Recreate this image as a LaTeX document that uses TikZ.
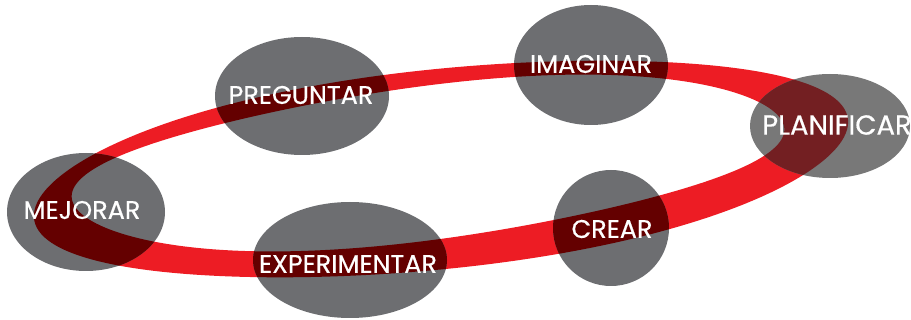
\documentclass[tikz,border=0pt]{standalone}
\usepackage{fontspec}
\setmainfont{Poppins}[FakeBold=0.5]
\newfontfamily\lblfont{Poppins}[FakeBold=0.5]
\usetikzlibrary{shapes.geometric}
\definecolor{ringred}{HTML}{ED1C24}
\definecolor{blobgray}{HTML}{6D6E71}
\definecolor{blobdark}{HTML}{640000}
\definecolor{plangray}{HTML}{787878}
\definecolor{plandark}{HTML}{731F22}
% ring = outer rotated (slightly sheared) ellipse minus inner one
\newcommand\ringpath{plot[domain=0:360, samples=180, smooth cycle, variable=\t]
    ({441 + 410*cos(\t)*cos(7) - (100-4*sin(2*\t))*sin(\t)*sin(7)}, {169 - (410*cos(\t)*sin(7) + (100-4*sin(2*\t))*sin(\t)*cos(7))})
  plot[domain=0:360, samples=180, smooth cycle, variable=\t]
    ({428 + 358*cos(\t)*cos(5.6) - (77+6*sin(2*\t))*sin(\t)*sin(5.6)}, {163 - (358*cos(\t)*sin(5.6) + (77+6*sin(2*\t))*sin(\t)*cos(5.6))})}
\tikzset{
  blob/.style={ellipse, fill=blobgray, draw=none, inner sep=0pt},
  lbl/.style={text=white, font=\lblfont\fontsize{25.5}{25.5}\selectfont, inner sep=0pt}
}
\newcommand\darkover[5]{%
  \begin{scope}
    \clip (#1,#2) ellipse [x radius=#3, y radius=#4];
    \fill[#5, even odd rule] \ringpath;
  \end{scope}}
\begin{document}
\begin{tikzpicture}[x=1pt,y=-1pt]
\useasboundingbox (0,0) rectangle (911,320);
\fill[ringred, even odd rule] \ringpath;
\node[blob, minimum width=158pt, minimum height=118pt] (mej) at (86,212) {};
\node[blob, minimum width=174pt, minimum height=118pt] (pre) at (302,96) {};
\node[blob, minimum width=154pt, minimum height=120pt] (ima) at (591,65) {};
\node[blob, fill=plangray, minimum width=160pt, minimum height=104pt] (pla) at (830,126) {};
\node[blob, minimum width=194pt, minimum height=116pt] (exp) at (350,260) {};
\node[blob, minimum width=116pt, minimum height=116pt] (cre) at (611,228) {};
\darkover{86}{212}{79}{59}{blobdark}
\darkover{302}{96}{87}{59}{blobdark}
\darkover{591}{65}{77}{60}{blobdark}
\darkover{830}{126}{80}{52}{plandark}
\darkover{350}{260}{97}{58}{blobdark}
\darkover{611}{228}{58}{58}{blobdark}
\node[lbl] (mejt) at (82,210) {MEJORAR};
\node[lbl] (pret) at (301,95) {PREGUNTAR};
\node[lbl] (imat) at (591,64) {IMAGINAR};
\node[lbl, font=\lblfont\fontsize{27.5}{27.5}\selectfont] (plat) at (837,125) {PLANIFICAR};
\node[lbl] (expt) at (348,264) {EXPERIMENTAR};
\node[lbl] (cret) at (612,229) {CREAR};
\end{tikzpicture}
\end{document}
